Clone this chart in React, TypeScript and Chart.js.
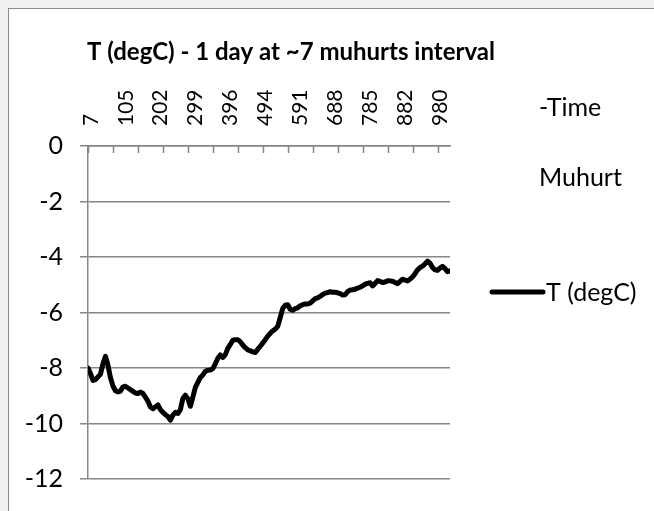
import React, { useEffect, useRef } from "react";
import { Chart, registerables } from "chart.js";

Chart.register(...registerables);

const TITLE = "T (degC) - 1 day at ~7 muhurts interval";
const LEGEND_EXTRA = ["-Time", "Muhurt"];
const SERIES_NAME = "T (degC)";
const TIME_LABELS = ["7", "105", "202", "299", "396", "494", "591", "688", "785", "882", "980"];
const LABEL_EVERY = 14;
const TICK_MARK_EVERY = 10;
const Y_MIN = -12;
const Y_MAX = 0;
const Y_STEP = 2;

const TEMPS = [
  -8.0, -8.2, -8.45, -8.42, -8.32, -8.22, -7.85, -7.58, -7.9, -8.35,
  -8.65, -8.82, -8.86, -8.83, -8.68, -8.66, -8.72, -8.78, -8.84, -8.9,
  -8.92, -8.87, -8.92, -9.05, -9.2, -9.4, -9.47, -9.4, -9.33, -9.5,
  -9.6, -9.68, -9.75, -9.88, -9.7, -9.6, -9.64, -9.5, -9.1, -8.98,
  -9.11, -9.38, -9.05, -8.7, -8.52, -8.34, -8.25, -8.12, -8.08, -8.07,
  -8.02, -7.85, -7.65, -7.53, -7.62, -7.52, -7.29, -7.15, -7.0, -6.98,
  -6.98, -7.05, -7.17, -7.27, -7.35, -7.38, -7.42, -7.44, -7.32, -7.22,
  -7.1, -6.98, -6.85, -6.75, -6.66, -6.6, -6.5, -6.18, -5.85, -5.74,
  -5.72, -5.88, -5.92, -5.86, -5.83, -5.76, -5.72, -5.69, -5.69, -5.66,
  -5.58, -5.5, -5.47, -5.42, -5.35, -5.3, -5.28, -5.25, -5.27, -5.27,
  -5.29, -5.32, -5.37, -5.36, -5.25, -5.19, -5.18, -5.16, -5.12, -5.09,
  -5.04, -4.98, -4.95, -4.93, -5.04, -4.95, -4.85, -4.88, -4.92, -4.9,
  -4.86, -4.86, -4.87, -4.92, -4.96, -4.88, -4.8, -4.83, -4.86, -4.8,
  -4.72, -4.6, -4.46, -4.38, -4.33, -4.25, -4.15, -4.22, -4.38, -4.46,
  -4.48, -4.4, -4.34, -4.42, -4.53, -4.5,
];

const FONT = "Lato, 'Open Sans', sans-serif";
const GRAY = "#868686";

const decor = {
  id: "decor",
  beforeDatasetsDraw(chart: any) {
    const { ctx, chartArea, scales } = chart;
    const x = scales.x;
    ctx.save();
    ctx.strokeStyle = GRAY;
    ctx.lineWidth = 1.5;
    for (let v = 0; v <= x.max; v += TICK_MARK_EVERY) {
      const px = Math.round(x.getPixelForValue(v)) + 0.5;
      ctx.beginPath();
      ctx.moveTo(px, chartArea.top);
      ctx.lineTo(px, chartArea.top + 7);
      ctx.stroke();
    }
    ctx.restore();
  },
  afterDraw(chart: any) {
    const { ctx } = chart;
    ctx.save();
    ctx.fillStyle = "#000";
    ctx.textBaseline = "alphabetic";
    // title
    ctx.font = `bold 24px ${FONT}`;
    ctx.textAlign = "center";
    ctx.fillText(TITLE, 291, 60);
    // legend
    ctx.font = `25px ${FONT}`;
    ctx.textAlign = "left";
    ctx.fillText(LEGEND_EXTRA[0], 539, 116);
    ctx.fillText(LEGEND_EXTRA[1], 539, 186);
    const ds = chart.data.datasets[0];
    ctx.strokeStyle = ds.borderColor;
    ctx.lineWidth = 5;
    ctx.lineCap = "round";
    ctx.beginPath();
    ctx.moveTo(492, 292);
    ctx.lineTo(543, 292);
    ctx.stroke();
    ctx.fillText(ds.label, 546, 301);
    ctx.restore();
  },
};

export default function App() {
  const ref = useRef<HTMLCanvasElement>(null);
  useEffect(() => {
    const chart = new Chart(ref.current as HTMLCanvasElement, {
      type: "line",
      data: {
        datasets: [
          {
            label: SERIES_NAME,
            data: TEMPS.map((y, x) => ({ x, y })),
            borderColor: "#000",
            borderWidth: 5,
            pointRadius: 0,
            borderJoinStyle: "round",
            borderCapStyle: "round",
            tension: 0,
          },
        ],
      },
      options: {
        responsive: false,
        animation: false,
        layout: { padding: { left: 0, top: 0, right: 204, bottom: 27 } },
        plugins: {
          legend: { display: false },
          tooltip: { enabled: false },
          title: { display: false },
        },
        scales: {
          x: {
            type: "linear",
            position: "top",
            min: 0,
            max: TEMPS.length - 1,
            grid: { display: true, drawOnChartArea: false, drawTicks: false },
            border: { display: true, color: GRAY, width: 1.5 },
            ticks: {
              stepSize: LABEL_EVERY,
              includeBounds: false,
              autoSkip: false,
              minRotation: 90,
              maxRotation: 90,
              padding: 20,
              labelOffset: 28,
              color: "#000",
              font: { family: FONT, size: 21 },
              callback: (v: any) => {
                const k = Math.round(Number(v) / LABEL_EVERY);
                return TIME_LABELS[k] ?? "";
              },
            },
            afterFit: (s: any) => {
              s.height = 146;
            },
          },
          y: {
            type: "linear",
            min: Y_MIN,
            max: Y_MAX,
            ticks: {
              stepSize: Y_STEP,
              padding: 17,
              color: "#000",
              font: { family: FONT, size: 25 },
            },
            grid: { color: GRAY, lineWidth: 1.5, tickLength: 8 },
            border: { color: GRAY, width: 1.5 },
            afterFit: (s: any) => {
              s.width = 88;
            },
          },
        },
      },
      plugins: [decor],
    } as any);
    return () => {
      chart.destroy();
    };
  }, []);

  return (
    <div
      style={{
        position: "fixed",
        left: 0,
        top: 0,
        width: 654,
        height: 511,
        overflow: "hidden",
        background: "#f0f0f0",
      }}
    >
      <div
        style={{
          position: "absolute",
          left: 8,
          top: 8,
          width: 700,
          height: 600,
          border: "1px solid #8a8a8a",
          background: "#fff",
        }}
      />
      <canvas
        ref={ref}
        width={654}
        height={511}
        style={{ position: "absolute", left: 0, top: 0 }}
      />
    </div>
  );
}
